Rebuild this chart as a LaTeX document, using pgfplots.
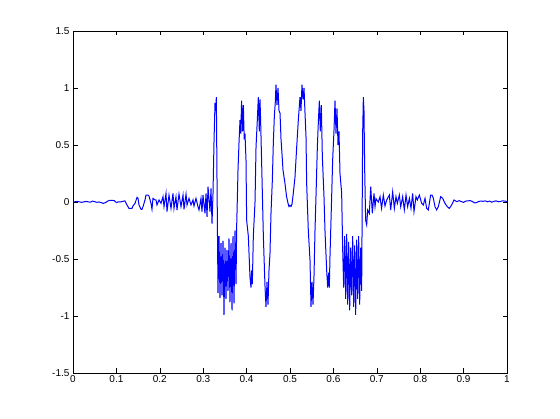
\documentclass[border=0pt]{standalone}
\usepackage{pgfplots}
\pgfplotsset{compat=1.18}
\usepackage{fontspec}
\setmainfont{Liberation Sans}
\begin{document}
\begin{tikzpicture}
\useasboundingbox (0,0) rectangle (560bp,419bp);
\begin{axis}[
  at={(73bp,46bp)}, anchor=south west,
  scale only axis, width=434bp, height=342bp,
  xmin=0, xmax=1, ymin=-1.5, ymax=1.5,
  xtick={0,0.1,0.2,0.3,0.4,0.5,0.6,0.7,0.8,0.9,1},
  xticklabels={0,0.1,0.2,0.3,0.4,0.5,0.6,0.7,0.8,0.9,1},
  ytick={-1.5,-1,-0.5,0,0.5,1,1.5},
  yticklabels={-1.5,-1,-0.5,0,0.5,1,1.5},
  tick align=inside, xtick pos=both, ytick pos=both,
  major tick length=4.5bp,
  tick style={black, line width=0.6bp},
  axis line style={black, line width=0.6bp},
  tick label style={font=\fontsize{10bp}{12bp}\selectfont},
  xticklabel style={yshift=1bp},
  clip=true,
]
\addplot[blue, line width=1bp, line join=miter] coordinates {
(0,0.000)(0.010,0.005)(0.020,-0.003)(0.030,0.005)(0.040,-0.002)(0.045,0.008)(0.050,0.003)(0.055,-0.003)(0.060,0.000)(0.065,-0.006)(0.070,-0.012)(0.075,-0.005)(0.080,0.008)(0.085,0.015)(0.090,0.015)(0.095,0.012)(0.100,-0.005)(0.105,0.002)(0.1083,0.000)
(0.1198,0.010)(0.1244,-0.026)(0.1290,-0.056)(0.1359,-0.056)(0.1382,-0.035)(0.1429,-0.012)(0.1475,0.041)(0.1498,0.032)(0.1521,-0.026)(0.1567,-0.064)(0.1590,-0.064)(0.1613,-0.041)(0.1659,0.018)(0.1682,0.061)(0.1728,0.061)(0.1751,0.053)(0.1797,-0.012)(0.1820,-0.064)(0.1843,0.032)(0.1889,0.018)(0.1912,0.018)(0.1935,-0.026)(0.1982,0.018)(0.2028,-0.012)(0.2074,0.047)(0.2097,-0.041)(0.2143,0.076)(0.2166,-0.085)(0.2212,0.061)(0.2258,-0.056)(0.2304,0.076)(0.2327,-0.056)(0.2373,0.047)(0.2396,-0.070)(0.2442,0.070)(0.2488,-0.041)(0.2535,0.061)(0.2558,-0.064)(0.2604,0.070)(0.2627,-0.026)(0.2673,0.032)(0.2719,-0.026)(0.2765,0.018)(0.2788,-0.035)(0.2834,0.032)(0.2880,-0.041)(0.2903,-0.070)(0.2949,0.032)(0.2972,-0.085)(0.2995,0.061)(0.3041,-0.100)(0.3065,0.076)(0.3088,-0.130)(0.3111,0.135)(0.3157,-0.085)(0.3180,0.120)(0.3203,-0.190)(0.3226,0.076)(0.3249,0.53)(0.3272,0.87)(0.3287,0.80)(0.3303,0.92)(0.3318,0.20)(0.3341,-0.80)
(0.3364,-0.30)(0.3387,-0.84)(0.3410,-0.36)(0.3433,-0.82)(0.3456,-0.34)(0.3479,-0.99)(0.3502,-0.40)(0.3525,-0.85)(0.3548,-0.42)(0.3571,-0.78)(0.3594,-0.32)(0.3617,-0.88)(0.3641,-0.36)(0.3664,-0.95)(0.3687,-0.30)(0.3710,-0.89)(0.3733,-0.25)(0.3756,-0.72)(0.3772,-0.20)
(0.3790,0.08)(0.3802,0.28)(0.3825,0.52)(0.3848,0.72)(0.3865,0.60)(0.3885,0.89)(0.3905,0.62)(0.3925,0.85)(0.3945,0.55)(0.3963,0.60)(0.3986,0.37)(0.4001,-0.16)(0.4040,-0.30)(0.4078,-0.66)(0.4101,-0.75)(0.4116,-0.60)(0.4132,-0.72)(0.4155,-0.30)(0.4194,0.00)(0.4217,0.48)(0.4247,0.72)(0.4270,0.92)(0.4293,0.62)(0.4309,0.90)(0.4324,0.70)(0.4347,0.34)(0.4386,-0.30)(0.4424,-0.74)(0.4447,-0.92)(0.4470,-0.70)(0.4493,-0.90)(0.4516,-0.60)(0.4539,-0.45)(0.4562,-0.10)(0.4593,0.19)(0.4616,0.52)(0.4639,0.75)(0.4662,0.88)(0.4677,1.03)(0.4700,0.85)(0.4724,1.00)(0.4747,0.80)(0.4770,0.78)(0.4793,0.55)(0.4816,0.42)(0.4839,0.28)(0.4885,0.16)(0.4920,0.05)(0.4954,-0.01)(0.4977,-0.04)(0.5000,-0.03)(0.5023,-0.04)(0.5046,-0.02)(0.5077,0.08)(0.5115,0.22)(0.5154,0.48)(0.5192,0.72)(0.5230,0.92)(0.5253,0.80)(0.5276,1.03)(0.5300,0.90)(0.5323,1.00)(0.5346,0.78)(0.5369,0.57)(0.5384,0.16)(0.5422,-0.25)(0.5461,-0.51)(0.5484,-0.92)(0.5507,-0.70)(0.5530,-0.90)(0.5553,-0.65)(0.5576,-0.25)(0.5599,0.05)(0.5630,0.48)(0.5653,0.70)(0.5676,0.89)(0.5699,0.62)(0.5722,0.85)(0.5745,0.40)(0.5783,0.05)(0.5806,-0.25)(0.5845,-0.60)(0.5868,-0.75)(0.5891,-0.62)(0.5906,-0.75)(0.5922,-0.47)(0.5960,0.05)(0.5983,0.37)(0.6014,0.63)(0.6037,0.89)(0.6060,0.60)(0.6083,0.82)(0.6106,0.50)(0.6129,0.62)(0.6152,0.25)(0.6190,0.08)(0.6214,-0.42)
(0.6237,-0.75)(0.6260,-0.30)(0.6283,-0.85)(0.6306,-0.28)(0.6329,-0.90)(0.6352,-0.35)(0.6375,-0.95)(0.6398,-0.40)(0.6421,-0.82)(0.6444,-0.30)(0.6467,-0.92)(0.6490,-0.38)(0.6513,-0.99)(0.6536,-0.33)(0.6559,-0.85)(0.6582,-0.30)(0.6605,-0.90)(0.6628,-0.40)(0.6651,-0.78)(0.6674,0.60)(0.6690,0.92)(0.6705,0.80)(0.6720,0.30)
(0.6743,-0.16)(0.6767,-0.20)(0.6790,-0.07)(0.6828,-0.10)(0.6860,0.135)(0.6897,-0.10)(0.6935,0.076)(0.6959,-0.04)(0.6982,0.03)(0.7035,0.00)(0.7074,0.047)(0.7110,-0.056)(0.7150,0.061)(0.7189,-0.035)(0.7228,0.018)(0.7289,0.061)(0.7320,-0.070)(0.7366,0.090)(0.7404,-0.056)(0.7442,0.047)(0.7473,-0.012)(0.7519,0.061)(0.7551,-0.041)(0.7596,0.047)(0.7634,-0.070)(0.7673,0.061)(0.7711,-0.041)(0.7750,0.032)(0.7788,-0.056)(0.7826,0.076)(0.7857,-0.085)(0.7903,0.047)(0.7934,0.018)(0.7980,0.061)(0.8034,-0.012)(0.8072,-0.026)(0.8111,0.032)(0.8149,-0.056)(0.8187,-0.070)(0.8241,0.061)(0.8272,0.061)(0.8303,0.032)(0.8341,-0.041)(0.8380,-0.070)(0.8418,-0.041)(0.8472,0.047)(0.8518,0.032)(0.8571,-0.012)(0.8625,-0.041)(0.8671,-0.056)(0.8725,-0.026)(0.8779,0.018)(0.8841,0.003)(0.8901,0.012)
(0.895,0.003)(0.900,-0.003)(0.905,0.008)(0.910,0.010)(0.915,0.012)(0.920,0.005)(0.925,-0.008)(0.930,-0.005)(0.935,0.005)(0.940,0.008)(0.945,0.006)(0.950,0.010)(0.955,0.002)(0.960,0.008)(0.965,-0.002)(0.970,0.006)(0.975,0.010)(0.980,0.002)(0.985,0.005)(0.990,0.010)(0.995,0.008)(1.000,0.005)
};
\end{axis}
\end{tikzpicture}
\end{document}
